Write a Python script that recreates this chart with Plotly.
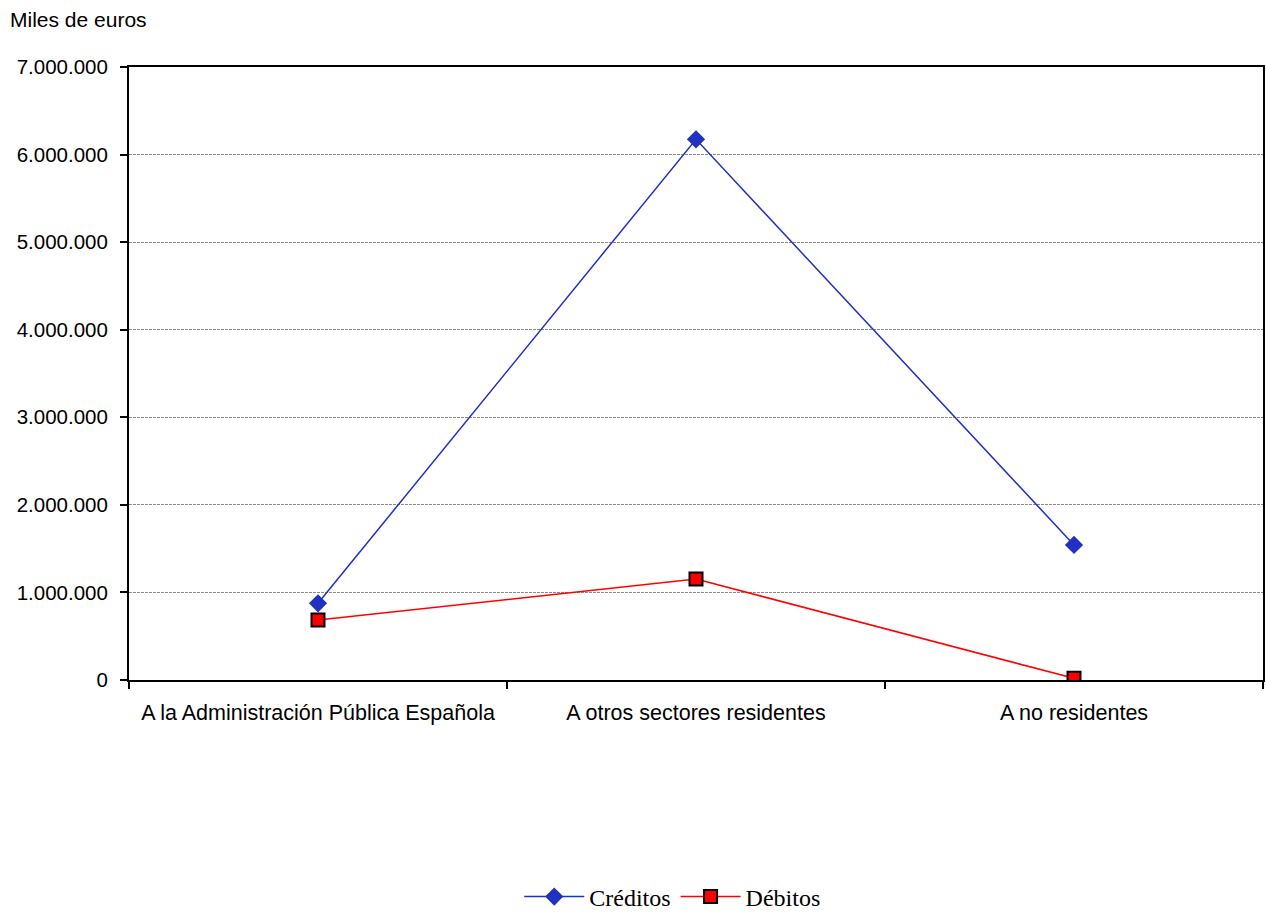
import plotly.graph_objects as go

categories = ["A la Administración Pública Española", "A otros sectores residentes", "A no residentes"]
creditos = [876000, 6174000, 1542000]
debitos = [685000, 1153000, 19000]
y_ticks = [0, 1000000, 2000000, 3000000, 4000000, 5000000, 6000000, 7000000]

fig = go.Figure()
fig.add_trace(go.Scatter(
    x=categories, y=creditos, name="Créditos", mode="lines+markers",
    line=dict(color="#2030C0", width=1.5),
    marker=dict(symbol="diamond", size=14, color="#2030C0", line=dict(width=0)),
))
fig.add_trace(go.Scatter(
    x=categories, y=debitos, name="Débitos", mode="lines+markers",
    line=dict(color="#FF0000", width=1.5),
    marker=dict(symbol="square", size=13, color="#FF0000", line=dict(color="#000000", width=2)),
))

fig.update_layout(
    width=1266, height=914,
    margin=dict(l=129, r=1, t=67, b=234),
    paper_bgcolor="white", plot_bgcolor="white",
    separators=",.",
    font=dict(family="Liberation Sans, Arial", size=21, color="black"),
    showlegend=True,
    legend=dict(
        orientation="h", xref="container", yref="container",
        x=0.531, xanchor="center", y=0.0186, yanchor="middle",
        font=dict(family="Liberation Serif, Times New Roman", size=24, color="black"),
        itemwidth=60, traceorder="normal",
    ),
    annotations=[dict(
        text="Miles de euros", xref="paper", yref="paper",
        x=(8 - 129) / 1136, y=(680 - 20) / 613, xanchor="left", yanchor="middle",
        showarrow=False, font=dict(family="Liberation Sans, Arial", size=21, color="black"),
    )],
)

fig.update_xaxes(
    type="category", range=[-0.5, 2.5], tickson="boundaries",
    ticks="outside", ticklen=7, tickwidth=2, tickcolor="black",
    showline=True, linecolor="black", linewidth=2, mirror=True,
    showgrid=False, zeroline=False, ticklabelstandoff=12,
    tickfont=dict(family="Liberation Sans, Arial", size=21.5, color="black"),
)
fig.update_yaxes(
    range=[0, 7000000], tickvals=y_ticks, tickformat=",d",
    ticks="outside", ticklen=7, tickwidth=1.5, tickcolor="black",
    showline=True, linecolor="black", linewidth=2, mirror=True,
    showgrid=True, gridcolor="#8a8a8a", gridwidth=1, griddash="3px,1px",
    zeroline=False, ticklabelstandoff=8,
    tickfont=dict(family="Liberation Sans, Arial", size=20.5, color="black"),
)

post = ("document.body.style.margin='0';document.body.style.padding='0';"
        "document.body.style.overflow='hidden';"
        "document.documentElement.style.overflow='hidden';"
        "Plotly.relayout('{plot_id}', {width:1266, height:914});")
fig.write_html("out.html", post_script=post, config=dict(displayModeBar=False))
